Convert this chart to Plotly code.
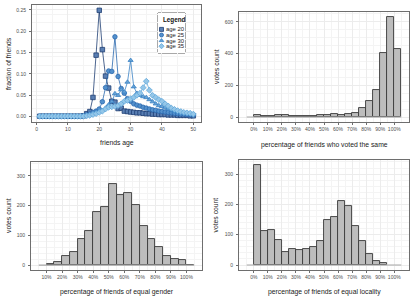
import plotly.graph_objects as go

# ---------------- data ----------------
ages = list(range(1, 51))
age20 = [0.001, 0.001, 0.001, 0.001, 0.001, 0.001, 0.001, 0.001, 0.001, 0.001,
         0.001, 0.001, 0.001, 0.001, 0.002, 0.007, 0.012, 0.045, 0.144, 0.249,
         0.157, 0.095, 0.067, 0.036, 0.034, 0.019, 0.020, 0.013, 0.012, 0.011,
         0.010, 0.009, 0.009, 0.008, 0.007, 0.007, 0.006, 0.006, 0.005, 0.005,
         0.005, 0.004, 0.004, 0.004, 0.003, 0.003, 0.003, 0.003, 0.002, 0.002]
age25 = [0.001, 0.001, 0.001, 0.001, 0.001, 0.001, 0.001, 0.001, 0.001, 0.001,
         0.001, 0.001, 0.001, 0.001, 0.002, 0.004, 0.006, 0.010, 0.013, 0.018,
         0.035, 0.068, 0.107, 0.106, 0.187, 0.094, 0.066, 0.055, 0.042, 0.036,
         0.030, 0.027, 0.025, 0.022, 0.020, 0.018, 0.016, 0.015, 0.013, 0.012,
         0.011, 0.010, 0.009, 0.008, 0.007, 0.006, 0.006, 0.005, 0.005, 0.004]
age30 = [0.001, 0.001, 0.001, 0.001, 0.001, 0.001, 0.001, 0.001, 0.001, 0.001,
         0.001, 0.001, 0.001, 0.001, 0.001, 0.003, 0.004, 0.006, 0.010, 0.012,
         0.015, 0.020, 0.028, 0.035, 0.054, 0.050, 0.063, 0.058, 0.081, 0.132,
         0.070, 0.055, 0.050, 0.047, 0.045, 0.040, 0.035, 0.030, 0.026, 0.024,
         0.021, 0.018, 0.016, 0.013, 0.011, 0.010, 0.008, 0.007, 0.006, 0.005]
age35 = [0.001, 0.001, 0.001, 0.001, 0.001, 0.001, 0.001, 0.001, 0.001, 0.001,
         0.001, 0.001, 0.001, 0.001, 0.001, 0.002, 0.003, 0.005, 0.007, 0.010,
         0.013, 0.018, 0.022, 0.023, 0.024, 0.026, 0.030, 0.036, 0.038, 0.042,
         0.045, 0.050, 0.055, 0.068, 0.083, 0.062, 0.050, 0.045, 0.040, 0.036,
         0.030, 0.025, 0.020, 0.017, 0.014, 0.012, 0.010, 0.009, 0.008, 0.006]
series_names = ["age 20", "age 25", "age 30", "age 35"]

# histogram bins (left edges in %), width 5%
vote_bins = [-5, 0, 5, 10, 15, 20, 25, 30, 35, 40, 45, 50, 55, 60, 65, 70, 75, 80, 85, 90, 95, 100]
vote_counts = [0, 12, 6, 6, 12, 10, 6, 6, 8, 8, 12, 12, 19, 10, 18, 25, 54, 99, 167, 405, 630, 428]

gender_bins = [5, 10, 15, 20, 25, 30, 35, 40, 45, 50, 55, 60, 65, 70, 75, 80, 85, 90, 95, 100]
gender_counts = [0, 3, 9, 29, 43, 87, 114, 180, 194, 273, 234, 242, 201, 132, 89, 62, 32, 19, 16, 2]

loc_bins = [-5, 0, 5, 10, 15, 20, 25, 30, 35, 40, 45, 50, 55, 60, 65, 70, 75, 80, 85, 90, 95, 100]
loc_counts = [0, 331, 112, 116, 84, 44, 54, 48, 54, 60, 80, 147, 158, 210, 196, 130, 80, 35, 14, 5, 0, 0]

pct_ticks = [0, 10, 20, 30, 40, 50, 60, 70, 80, 90, 100]
pct_labels = [f"{t}%" for t in pct_ticks]

# ---------------- styling ----------------
FONT = "Liberation Sans, Arial, sans-serif"
colors = ["#1f3f73", "#2a68ae", "#3a82c4", "#62a8db"]
fills = ["#5a7fb3", "#5390cc", "#67a3d6", "#94c6e8"]
symbols = ["square", "circle", "triangle-up", "diamond"]
W, H = 415, 297

fig = go.Figure()

# ---- panel 1: lines ----
for name, ys, c, f, s in zip(series_names, [age20, age25, age30, age35], colors, fills, symbols):
    fig.add_trace(go.Scatter(
        x=ages, y=ys, name=name, mode="lines+markers",
        line=dict(color=c, width=0.8),
        marker=dict(symbol=s, size=4.5, color=f, line=dict(color=c, width=0.8)),
        xaxis="x", yaxis="y", showlegend=False))

def add_hist(bins, counts, xa, ya):
    centers = [b + 2.5 for b in bins]
    fig.add_trace(go.Scatter(
        x=[bins[0], bins[-1] + 5], y=[0, 0], mode="lines",
        line=dict(color="#a8a8a8", width=1.2), xaxis=xa, yaxis=ya,
        showlegend=False, hoverinfo="skip"))
    fig.add_trace(go.Bar(
        x=centers, y=[c if c > 0 else None for c in counts], width=5,
        marker=dict(color="#bdbdbd", line=dict(color="#3a3a3a", width=0.9)),
        xaxis=xa, yaxis=ya, showlegend=False))

add_hist(vote_bins, vote_counts, "x2", "y2")
add_hist(gender_bins, gender_counts, "x3", "y3")
add_hist(loc_bins, loc_counts, "x4", "y4")

# ---- manual compact legend (own small axes, in pixel units) ----
LEG_L, LEG_R, LEG_T, LEG_B = 158, 185, 13, 53
leg_y0, leg_step = 16.4, 5.6
leg_ys = [leg_y0 + i * leg_step for i in range(len(series_names))]
for name, c, f, s, yy in zip(series_names, colors, fills, symbols, leg_ys):
    fig.add_trace(go.Scatter(
        x=[3.5], y=[yy], mode="markers",
        marker=dict(symbol=s, size=4, color=f, line=dict(color=c, width=0.8)),
        xaxis="x5", yaxis="y5", showlegend=False, hoverinfo="skip"))

def dom(a, b, total):
    return [a / total, b / total]

def ydom(top, bottom):
    return [1 - bottom / H, 1 - top / H]

grid = "#ececec"
axis_common = dict(
    showline=True, linecolor="#6e6e6e", linewidth=1, mirror=True,
    ticks="outside", ticklen=2, tickcolor="#6e6e6e", tickwidth=0.8,
    gridcolor=grid, gridwidth=0.8, zeroline=False, automargin=False,
    tickfont=dict(family=FONT, size=5, color="#4d4d4d"),
    minor=dict(showgrid=True, gridcolor="#f4f4f4", gridwidth=0.5),
)
title_font = dict(family=FONT, size=6.8, color="#222222")

fig.update_layout(
    width=W, height=H, autosize=False,
    margin=dict(l=0, r=0, t=0, b=0),
    paper_bgcolor="white", plot_bgcolor="white",
    bargap=0, showlegend=False,
    xaxis=dict(domain=dom(32, 201, W), range=[-1.45, 52.45], tickvals=[0, 10, 20, 30, 40, 50],
               anchor="y", **axis_common),
    yaxis=dict(domain=ydom(5, 122), range=[-0.0125, 0.2615],
               tickvals=[0, 0.05, 0.10, 0.15, 0.20, 0.25], ticktext=["0.00", "0.05", "0.10", "0.15", "0.20", "0.25"],
               anchor="x", ticklabelstandoff=2, **axis_common),
    xaxis2=dict(domain=dom(239, 409, W), range=[-10.5, 110.5], tickvals=pct_ticks, ticktext=pct_labels,
                anchor="y2", **axis_common),
    yaxis2=dict(domain=ydom(12, 122), range=[-31.5, 661.5], tickvals=[0, 200, 400, 600],
                anchor="x2", ticklabelstandoff=2, **axis_common),
    xaxis3=dict(domain=dom(31, 202, W), range=[0, 110], tickvals=pct_ticks[1:], ticktext=pct_labels[1:],
                anchor="y3", **axis_common),
    yaxis3=dict(domain=ydom(162, 270), range=[-16.5, 346.5], tickvals=[0, 100, 200, 300],
                anchor="x3", ticklabelstandoff=2, **axis_common),
    xaxis4=dict(domain=dom(239, 409, W), range=[-10.5, 110.5], tickvals=pct_ticks, ticktext=pct_labels,
                anchor="y4", **axis_common),
    yaxis4=dict(domain=ydom(160, 270), range=[-16.5, 346.5], tickvals=[0, 100, 200, 300],
                anchor="x4", ticklabelstandoff=2, **axis_common),
    xaxis5=dict(domain=dom(LEG_L, LEG_R, W), range=[0, LEG_R - LEG_L], visible=False, fixedrange=True,
                anchor="y5"),
    yaxis5=dict(domain=ydom(LEG_T, LEG_B), range=[LEG_B - LEG_T, 0], visible=False, fixedrange=True,
                anchor="x5"),
    hovermode=False,
)
for a in ["y", "y2", "y3", "y4"]:
    fig.update_xaxes(minor=dict(dtick=5), selector=dict(anchor=a))

# legend box (white, under the legend markers but above the grid of panel 1)
fig.add_shape(type="rect", xref="x domain", yref="y domain",
              x0=(LEG_L - 32) / (201 - 32), x1=(LEG_R - 32) / (201 - 32),
              y0=(122 - LEG_B) / (122 - 5), y1=(122 - LEG_T) / (122 - 5),
              fillcolor="white", line=dict(color="#555555", width=1), layer="below")

ann = []
ann.append(dict(text="<b>Legend</b>", x=3, y=7, xref="x5", yref="y5", xanchor="left", yanchor="middle",
                showarrow=False, font=dict(family=FONT, size=6.3, color="#111111")))
for name, yy in zip(series_names, leg_ys):
    ann.append(dict(text=name, x=6.3, y=yy, xref="x5", yref="y5", xanchor="left", yanchor="middle",
                    showarrow=False, font=dict(family=FONT, size=5.9, color="#222222")))

def title(text, x, y, angle=0):
    return dict(text=text, x=x / W, y=1 - y / H, xref="paper", yref="paper", xanchor="center",
                yanchor="middle", showarrow=False, textangle=angle, font=title_font)

ann += [
    title("friends age", 116.5, 143),
    title("fraction of friends", 8.5, 63.5, -90),
    title("percentage of friends who voted the same", 324, 145.5),
    title("votes count", 217, 67, -90),
    title("percentage of friends of equal gender", 116.5, 292),
    title("votes count", 8, 216, -90),
    title("percentage of friends of equal locality", 324, 292),
    title("votes count", 214.5, 215, -90),
]
fig.update_layout(annotations=ann)

fig.write_html("out.html", config={"displayModeBar": False},
               post_script="document.body.style.margin='0';document.body.style.padding='0';")
